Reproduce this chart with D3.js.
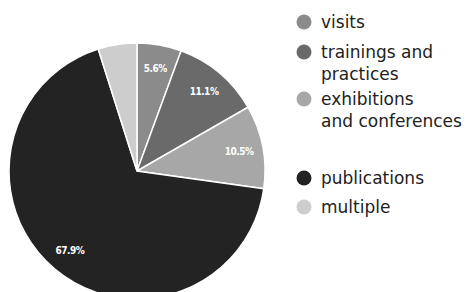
<!DOCTYPE html>
<html>
<head>
<meta charset="utf-8">
<script src="https://cdn.jsdelivr.net/npm/d3@7"></script>
<style>
  body { margin: 0; background: #fff; }
  svg { display: block; }
</style>
</head>
<body>
<svg width="475" height="292"></svg>
<script>
// chart data
const categories = ["visits", "trainings and practices", "exhibitions and conferences", "publications", "multiple"];
const values = [5.6, 11.1, 10.5, 67.9, 4.9];
const labels = ["5.6%", "11.1%", "10.5%", "67.9%", ""];
const legendLines = [["visits"], ["trainings and", "practices"], ["exhibitions", "and conferences"], ["publications"], ["multiple"]];
const colors = ["#8b8b8b", "#6a6a6a", "#a7a7a7", "#232323", "#cdcdcd"];

let svg = d3.select("svg");
let cx = 137, cy = 171, R = 128;

let pie = d3.pie().sort(null).value(d => d);
let arc = d3.arc().innerRadius(0).outerRadius(R);
let labelArc = d3.arc().innerRadius(104).outerRadius(104);

let g = svg.append("g").attr("transform", "translate(" + cx + "," + cy + ")");
let arcs = pie(values);

g.selectAll("path")
  .data(arcs)
  .enter().append("path")
  .attr("d", arc)
  .attr("fill", (d, i) => colors[i])
  .attr("stroke", "#fff")
  .attr("stroke-width", 1.5);

g.selectAll("text")
  .data(arcs)
  .enter().append("text")
  .attr("transform", d => "translate(" + labelArc.centroid(d) + ")")
  .attr("text-anchor", "middle")
  .attr("dy", "0.35em")
  .attr("fill", "#fff")
  .style("font-family", "DejaVu Sans Condensed, DejaVu Sans")
  .style("font-weight", "bold")
  .style("font-size", "10px")
  .style("letter-spacing", "-0.5px")
  .text((d, i) => labels[i]);

// legend
const legendY = [22, 52, 99, 178, 207];
let legend = svg.append("g");
let item = legend.selectAll("g")
  .data(categories)
  .enter().append("g")
  .attr("transform", (d, i) => "translate(304," + legendY[i] + ")");

item.append("circle")
  .attr("r", 7.5)
  .attr("fill", (d, i) => colors[i]);

item.append("text")
  .attr("fill", "#222")
  .style("font-family", "DejaVu Sans")
  .style("font-size", "17px")
  .selectAll("tspan")
  .data((d, i) => legendLines[i])
  .enter().append("tspan")
  .attr("x", 17)
  .attr("y", (d, j) => j * 22)
  .attr("dy", "0.35em")
  .text(d => d);
</script>
</body>
</html>
